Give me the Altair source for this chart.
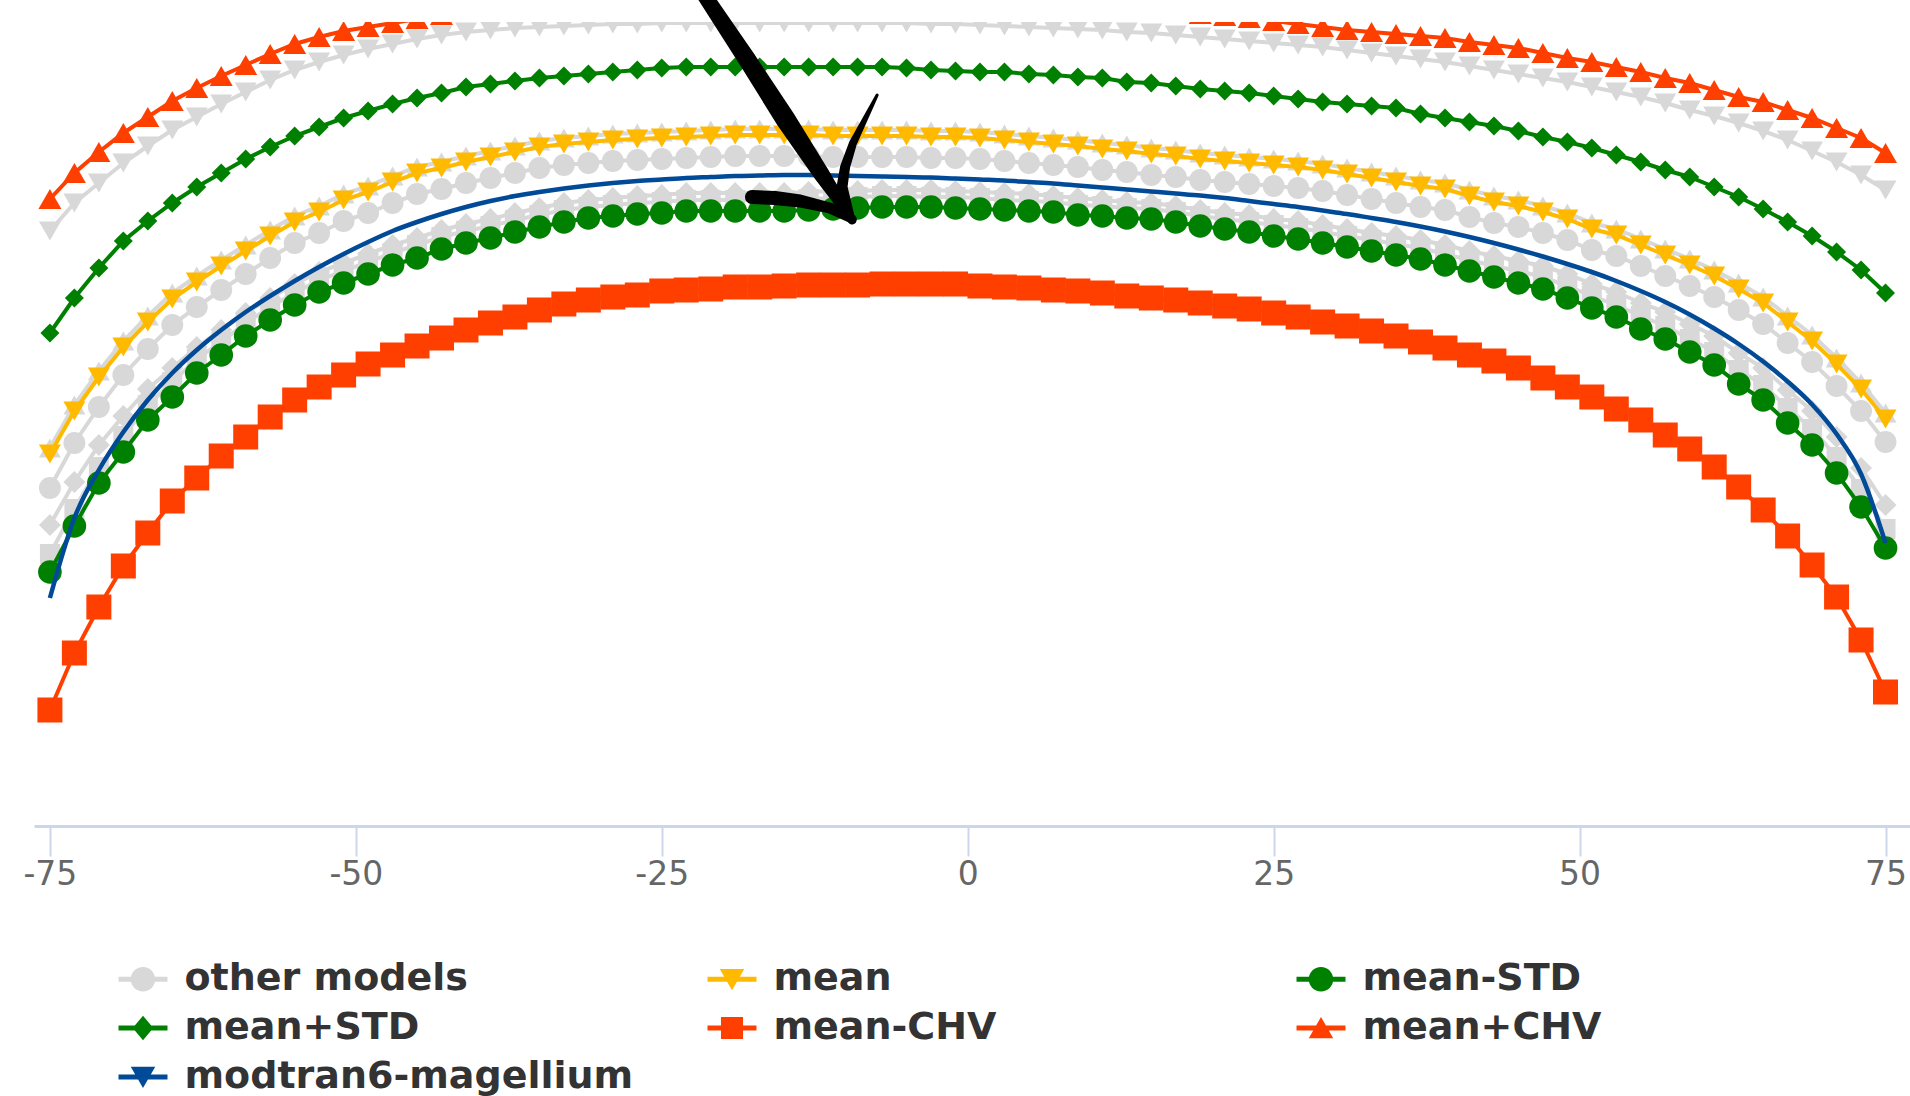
import altair as alt
import pandas as pd

# viewing angle (degrees)
ANGLE = [-75, -73, -71, -69, -67, -65, -63, -61, -59, -57,
         -55, -53, -51, -49, -47, -45, -43, -41, -39, -37,
         -35, -33, -31, -29, -27, -25, -23, -21, -19, -17,
         -15, -13, -11, -9, -7, -5, -3, -1,
         1, 3, 5, 7, 9, 11, 13, 15, 17, 19,
         21, 23, 25, 27, 29, 31, 33, 35, 37, 39,
         41, 43, 45, 47, 49, 51, 53, 55, 57, 59,
         61, 63, 65, 67, 69, 71, 73, 75]

MEAN = [44.6, 48.9, 52.3, 55.3, 57.8, 60.1, 61.8, 63.4, 64.9, 66.4,
        67.8, 68.8, 70.0, 70.8, 71.8, 72.7, 73.2, 73.8, 74.3, 74.8,
        75.3, 75.6, 75.8, 76.0, 76.1, 76.2, 76.3, 76.4, 76.5, 76.5,
        76.5, 76.5, 76.4, 76.4, 76.4, 76.4, 76.3, 76.3,
        76.2, 76.0, 75.8, 75.6, 75.4, 75.1, 74.9, 74.6, 74.4, 74.1,
        73.9, 73.7, 73.5, 73.3, 73.0, 72.6, 72.2, 71.8, 71.4, 71.1,
        70.4, 69.8, 69.4, 68.8, 68.1, 67.1, 66.5, 65.5, 64.5, 63.5,
        62.4, 61.1, 59.7, 57.8, 55.9, 53.6, 51.1, 48.1]

MEAN_MINUS_STD = [32.8, 37.4, 41.7, 44.8, 48.0, 50.3, 52.7, 54.5, 56.4, 58.0,
                  59.5, 60.8, 61.7, 62.6, 63.5, 64.2, 65.1, 65.7, 66.2, 66.8,
                  67.3, 67.8, 68.2, 68.4, 68.6, 68.7, 68.9, 68.9, 68.9, 68.9,
                  68.9, 69.0, 69.1, 69.2, 69.3, 69.3, 69.3, 69.2,
                  69.1, 69.0, 68.9, 68.8, 68.5, 68.4, 68.2, 68.1, 67.8, 67.4,
                  67.1, 66.8, 66.4, 66.1, 65.7, 65.3, 64.9, 64.5, 64.1, 63.5,
                  62.9, 62.3, 61.7, 61.1, 60.2, 59.2, 58.3, 57.1, 56.1, 54.8,
                  53.5, 51.6, 50.0, 47.7, 45.5, 42.7, 39.3, 35.2]

MEAN_PLUS_STD = [56.7, 60.2, 63.2, 65.9, 67.9, 69.7, 71.3, 72.7, 74.1, 75.3,
                 76.4, 77.3, 78.2, 78.9, 79.6, 80.2, 80.7, 81.3, 81.6, 81.9,
                 82.2, 82.4, 82.6, 82.8, 83.0, 83.2, 83.3, 83.3, 83.3, 83.3,
                 83.3, 83.3, 83.3, 83.3, 83.3, 83.2, 83.0, 82.9,
                 82.8, 82.8, 82.6, 82.5, 82.3, 82.2, 81.8, 81.7, 81.4, 81.1,
                 80.9, 80.7, 80.4, 80.1, 79.8, 79.6, 79.4, 79.2, 78.6, 78.2,
                 77.8, 77.4, 76.9, 76.3, 75.8, 75.2, 74.5, 73.8, 73.0, 72.3,
                 71.3, 70.3, 69.1, 67.8, 66.4, 64.8, 63.0, 60.7]

MEAN_MINUS_CHV = [19.0, 24.7, 29.3, 33.4, 36.7, 39.9, 42.2, 44.4, 46.3, 48.3,
                  50.0, 51.3, 52.5, 53.6, 54.5, 55.4, 56.2, 57.0, 57.7, 58.3,
                  59.0, 59.6, 60.0, 60.3, 60.5, 60.9, 61.0, 61.1, 61.3, 61.3,
                  61.4, 61.5, 61.5, 61.5, 61.6, 61.6, 61.6, 61.6,
                  61.4, 61.3, 61.2, 61.0, 60.9, 60.7, 60.4, 60.2, 60.0, 59.7,
                  59.4, 59.1, 58.7, 58.3, 57.8, 57.4, 56.9, 56.4, 55.8, 55.2,
                  54.5, 53.9, 53.2, 52.2, 51.3, 50.3, 49.1, 48.0, 46.5, 45.1,
                  43.3, 41.3, 39.0, 36.4, 33.5, 30.3, 26.0, 20.8]

MEAN_PLUS_CHV = [70.1, 72.7, 74.8, 76.7, 78.3, 79.9, 81.2, 82.4, 83.5, 84.6,
                 85.6, 86.3, 86.9, 87.3, 87.7, 88.1, 88.5, 88.9, 89.2, 89.5,
                 89.7, 89.9, 90.1, 90.3, 90.4, 90.5, 90.6, 90.6, 90.7, 90.7,
                 90.7, 90.7, 90.7, 90.6, 90.6, 90.6, 90.6, 90.6,
                 90.5, 90.4, 90.3, 90.1, 89.9, 89.6, 89.3, 89.0, 88.8, 88.6,
                 88.4, 88.2, 87.9, 87.6, 87.3, 87.0, 86.8, 86.6, 86.4, 86.2,
                 85.8, 85.5, 85.2, 84.7, 84.2, 83.8, 83.3, 82.8, 82.2, 81.7,
                 81.0, 80.3, 79.8, 79.0, 78.2, 77.2, 76.2, 74.7]

MODTRAN = [30.2, 38.2, 43.0, 46.8, 50.0, 52.7, 55.0, 57.0, 58.8, 60.4,
           61.9, 63.3, 64.6, 65.8, 66.9, 67.8, 68.6, 69.3, 69.9, 70.4,
           70.8, 71.15, 71.45, 71.7, 71.9, 72.05, 72.2, 72.3, 72.4, 72.45,
           72.5, 72.5, 72.45, 72.4, 72.35, 72.3, 72.25, 72.15,
           72.05, 71.95, 71.8, 71.65, 71.45, 71.25, 71.05, 70.85, 70.65, 70.45,
           70.2, 69.9, 69.6, 69.3, 68.95, 68.6, 68.2, 67.8, 67.35, 66.85,
           66.3, 65.7, 65.05, 64.35, 63.6, 62.8, 61.9, 60.9, 59.8, 58.55,
           57.15, 55.6, 53.85, 51.85, 49.55, 46.6, 42.6, 35.7]

OTHER_1 = [66.9, 69.7, 71.7, 73.7, 75.4, 77.0, 78.3, 79.6, 80.8, 82.0,
           83.0, 83.8, 84.5, 85.1, 85.6, 86.1, 86.5, 86.8, 87.0, 87.2,
           87.3, 87.4, 87.5, 87.6, 87.6, 87.7, 87.7, 87.7, 87.7, 87.7,
           87.7, 87.7, 87.7, 87.7, 87.7, 87.7, 87.6, 87.6,
           87.5, 87.4, 87.3, 87.2, 87.1, 87.0, 86.8, 86.7, 86.5, 86.3,
           86.1, 85.9, 85.7, 85.5, 85.3, 85.0, 84.7, 84.4, 84.1, 83.8,
           83.4, 83.0, 82.6, 82.2, 81.8, 81.3, 80.8, 80.3, 79.7, 79.0,
           78.4, 77.7, 76.9, 76.0, 74.9, 73.8, 72.5, 71.0]

OTHER_2 = [45.2, 49.5, 52.9, 55.9, 58.4, 60.7, 62.4, 64.0, 65.5, 67.0,
           68.4, 69.4, 70.6, 71.4, 72.4, 73.3, 73.8, 74.4, 74.9, 75.4,
           75.9, 76.2, 76.4, 76.6, 76.7, 76.8, 76.9, 77.0, 77.1, 77.1,
           77.1, 77.1, 77.0, 77.0, 77.0, 77.0, 76.9, 76.9,
           76.8, 76.6, 76.4, 76.2, 76.0, 75.7, 75.5, 75.2, 75.0, 74.7,
           74.5, 74.3, 74.1, 73.9, 73.6, 73.2, 72.8, 72.4, 72.0, 71.7,
           71.0, 70.4, 70.0, 69.4, 68.7, 67.7, 67.1, 66.1, 65.1, 64.1,
           63.0, 61.7, 60.3, 58.4, 56.5, 54.2, 51.7, 48.7]

OTHER_3 = [41.2, 45.7, 49.3, 52.5, 55.1, 57.5, 59.3, 61.0, 62.6, 64.2,
           65.7, 66.7, 67.9, 68.7, 69.7, 70.6, 71.1, 71.7, 72.2, 72.7,
           73.2, 73.5, 73.7, 73.9, 74.0, 74.1, 74.2, 74.3, 74.4, 74.4,
           74.4, 74.4, 74.3, 74.3, 74.3, 74.3, 74.2, 74.2,
           74.1, 73.9, 73.7, 73.5, 73.3, 73.0, 72.8, 72.5, 72.3, 72.0,
           71.8, 71.6, 71.4, 71.2, 70.9, 70.5, 70.1, 69.7, 69.3, 69.0,
           68.3, 67.7, 67.3, 66.7, 66.0, 65.0, 64.4, 63.4, 62.4, 61.4,
           60.3, 59.0, 57.6, 55.7, 53.8, 51.4, 48.9, 45.8]

OTHER_4 = [37.5, 41.8, 45.5, 48.4, 51.1, 53.2, 55.3, 57.0, 58.7, 60.2,
           61.6, 62.8, 63.7, 64.6, 65.5, 66.2, 67.0, 67.6, 68.1, 68.7,
           69.2, 69.7, 70.0, 70.2, 70.4, 70.5, 70.7, 70.7, 70.7, 70.7,
           70.7, 70.8, 70.9, 70.9, 71.0, 71.0, 71.0, 70.9,
           70.8, 70.7, 70.6, 70.4, 70.2, 70.0, 69.8, 69.7, 69.4, 69.0,
           68.7, 68.5, 68.1, 67.9, 67.5, 67.1, 66.7, 66.4, 66.0, 65.5,
           64.9, 64.4, 63.9, 63.4, 62.6, 61.6, 60.8, 59.7, 58.8, 57.6,
           56.4, 54.7, 53.2, 51.0, 48.9, 46.3, 43.2, 39.5]

OTHER_5 = [34.6, 39.1, 43.3, 46.4, 49.5, 51.8, 54.1, 55.8, 57.7, 59.3,
           60.7, 62.0, 62.9, 63.8, 64.7, 65.5, 66.3, 66.9, 67.4, 68.0,
           68.5, 69.0, 69.3, 69.5, 69.7, 69.8, 70.0, 70.0, 70.0, 70.0,
           70.0, 70.1, 70.2, 70.3, 70.4, 70.4, 70.3, 70.3,
           70.2, 70.0, 69.9, 69.8, 69.5, 69.4, 69.2, 69.1, 68.8, 68.4,
           68.1, 67.8, 67.5, 67.2, 66.8, 66.4, 66.0, 65.6, 65.2, 64.6,
           64.0, 63.4, 62.9, 62.3, 61.4, 60.4, 59.5, 58.4, 57.4, 56.1,
           54.8, 53.0, 51.5, 49.2, 47.1, 44.3, 41.1, 37.1]

# hand-drawn arrow annotation, in data coordinates (angle, value) with stroke width
ARROW_STROKE = ["shaft"] * 5 + ["head_right"] * 6 + ["head_left"] * 5
ARROW_ANGLE = [-21.8, -18.0, -14.85, -11.9, -9.45,
               -7.4, -8.55, -9.37, -10.02, -10.27, -9.69,
               -17.63, -15.75, -13.7, -11.25, -9.45]
ARROW_VALUE = [91.0, 84.0, 78.0, 72.5, 68.0,
               80.5, 77.7, 75.7, 73.3, 71.3, 68.5,
               70.3, 70.2, 69.9, 69.2, 68.1]
ARROW_WIDTH = [15, 18, 20, 16, 9,
               3, 6, 8, 10, 11, 10,
               14, 14, 13, 11, 9]

SERIES_ORDER = ["other models", "mean", "mean-STD", "mean+STD",
                "mean-CHV", "mean+CHV", "modtran6-magellium"]
SERIES_COLORS = ["#d8d8d8", "#ffba00", "#008000", "#008000",
                 "#ff3f00", "#ff3f00", "#004a98"]
TICKS = [-75, -50, -25, 0, 25, 50, 75]

for arr in [MEAN, MEAN_MINUS_STD, MEAN_PLUS_STD, MEAN_MINUS_CHV, MEAN_PLUS_CHV,
            MODTRAN, OTHER_1, OTHER_2, OTHER_3, OTHER_4, OTHER_5]:
    assert len(arr) == len(ANGLE), len(arr)

X_DOMAIN = [-76.3, 77.0]
Y_DOMAIN = [7.4, 87.8]

x_axis = alt.Axis(values=TICKS, title=None, grid=False,
                  domainColor="#ccd6eb", domainWidth=3,
                  tickColor="#ccd6eb", tickWidth=2, tickSize=30,
                  labelFontSize=33, labelFont="DejaVu Sans", labelColor="#666666",
                  labelPadding=2, labelFlush=False, labelOverlap=False,
                  labelBaseline="top", labelExpr="datum.value + ''")


def xenc():
    return alt.X("angle:Q", scale=alt.Scale(domain=X_DOMAIN, nice=False, zero=False), axis=x_axis)


def yenc():
    return alt.Y("value:Q", scale=alt.Scale(domain=Y_DOMAIN, nice=False, zero=False), axis=None)


def frame(vals):
    return pd.DataFrame({"angle": ANGLE, "value": vals})


def series_layers(vals, color, shape, size, line_width=4):
    base = alt.Chart(frame(vals)).encode(x=xenc(), y=yenc())
    line = base.mark_line(clip=True, color=color, strokeWidth=line_width)
    pts = base.mark_point(clip=True, filled=True, opacity=1, color=color,
                          shape=shape, size=size, strokeWidth=0)
    return [line, pts]


layers = []
GREY = "#d8d8d8"
layers += series_layers(OTHER_1, GREY, "triangle-down", 480)
layers += series_layers(OTHER_2, GREY, "triangle-up", 480)
layers += series_layers(OTHER_3, GREY, "circle", 480)
layers += series_layers(OTHER_4, GREY, "diamond", 480)
layers += series_layers(OTHER_5, GREY, "square", 400)
layers += series_layers(MEAN, "#ffba00", "triangle-down", 484)
layers += series_layers(MEAN_MINUS_STD, "#008000", "circle", 560)
layers += series_layers(MEAN_PLUS_STD, "#008000", "diamond", 361)
layers += series_layers(MEAN_MINUS_CHV, "#ff3f00", "square", 625)
layers += series_layers(MEAN_PLUS_CHV, "#ff3f00", "triangle-up", 529)

modtran = alt.Chart(frame(MODTRAN)).mark_line(
    clip=True, color="#004a98", strokeWidth=4.5, interpolate="monotone"
).encode(x=xenc(), y=yenc())
layers.append(modtran)

# arrow annotation
arrow_df = pd.DataFrame({
    "stroke": ARROW_STROKE,
    "angle": ARROW_ANGLE,
    "value": ARROW_VALUE,
    "w": ARROW_WIDTH,
    "seq": list(range(len(ARROW_ANGLE))),
})
arrow = alt.Chart(arrow_df).mark_trail(clip=False, color="black").encode(
    x=xenc(), y=yenc(),
    size=alt.Size("w:Q", scale=None, legend=None),
    detail="stroke:N",
    order="seq:Q",
)
layers.append(arrow)

# legend (symbol = line with the series marker)
LINE = "M-1,-0.1H1V0.1H-1Z"
CIRCLE = "M0.5,0A0.5,0.5,0,1,1,-0.5,0A0.5,0.5,0,1,1,0.5,0Z"
TRI_DOWN = "M-0.5,-0.42L0.5,-0.42L0,0.45Z"
TRI_UP = "M0,-0.45L0.5,0.42L-0.5,0.42Z"
DIAMOND = "M0,-0.5L0.42,0L0,0.5L-0.42,0Z"
SQUARE = "M-0.45,-0.45H0.45V0.45H-0.45Z"
LEGEND_SHAPES = [LINE + CIRCLE, LINE + TRI_DOWN, LINE + CIRCLE, LINE + DIAMOND,
                 LINE + SQUARE, LINE + TRI_UP, LINE + TRI_DOWN]

legend_def = alt.Legend(
    title=None, orient="none", legendX=84.5, legendY=932.5,
    direction="horizontal", values=SERIES_ORDER,
    columns=3, gridAlign="all", columnPadding=74, rowPadding=5, padding=0,
    symbolSize=2400, symbolStrokeWidth=0, symbolOpacity=1,
    labelFont="DejaVu Sans", labelFontSize=38, labelFontWeight="bold",
    labelColor="#333333", labelOffset=17, labelLimit=800,
)
legend_layer = alt.Chart(pd.DataFrame({"series": SERIES_ORDER})).mark_point(
    clip=True, filled=True, opacity=1, strokeWidth=0
).encode(
    x=alt.value(-500), y=alt.value(-500),
    color=alt.Color("series:N", scale=alt.Scale(domain=SERIES_ORDER, range=SERIES_COLORS),
                    legend=legend_def, sort=SERIES_ORDER),
    shape=alt.Shape("series:N", scale=alt.Scale(domain=SERIES_ORDER, range=LEGEND_SHAPES),
                    legend=legend_def, sort=SERIES_ORDER),
)
layers.append(legend_layer)

chart = alt.layer(*layers).properties(
    width=1876, height=804,
    padding={"left": 34, "top": 22, "right": 0, "bottom": 270},
    autosize=alt.AutoSizeParams(type="none"),
    background="white",
).configure_view(stroke=None)

chart.save("out.html", embed_options={"renderer": "svg", "actions": False})
